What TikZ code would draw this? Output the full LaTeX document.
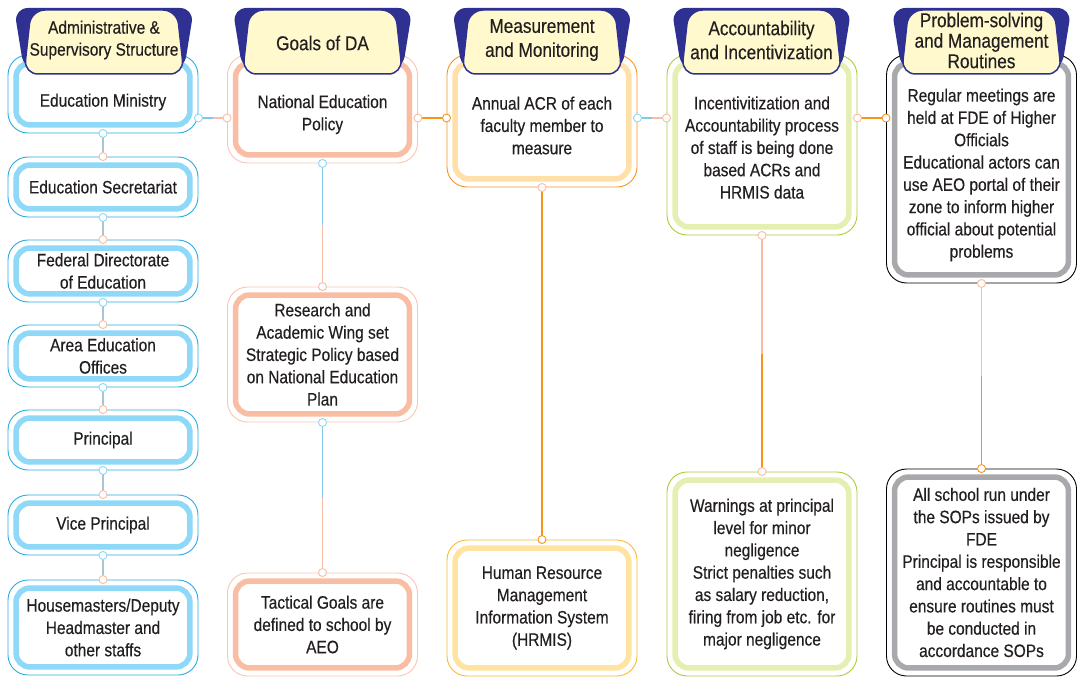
\documentclass[tikz,border=0pt]{standalone}
\usepackage{fontspec}
\setmainfont{Liberation Sans}[FakeStretch=0.86,FakeBold=0.35]
\usetikzlibrary{calc}

\definecolor{navy}{RGB}{46,49,146}
\definecolor{cream}{RGB}{255,249,205}
\definecolor{ink}{RGB}{35,31,32}
\definecolor{skyline}{RGB}{41,171,226}
\definecolor{skyband}{RGB}{142,216,248}
\definecolor{linkblue}{RGB}{130,200,232}
\definecolor{stemgray}{RGB}{170,196,210}
\definecolor{salmonline}{RGB}{249,198,180}
\definecolor{salmonband}{RGB}{249,189,163}
\definecolor{orangeline}{RGB}{247,148,29}
\definecolor{peachband}{RGB}{255,224,168}
\definecolor{goldline}{RGB}{252,186,48}
\definecolor{goldband}{RGB}{255,227,160}
\definecolor{greenline}{RGB}{166,206,57}
\definecolor{greenband}{RGB}{229,239,178}
\definecolor{greyband}{RGB}{167,169,172}

\begin{document}
\begin{tikzpicture}
[x=1pt,y=-1pt,
 box/.style={draw=#1,line width=0.9pt,fill=white,rounded corners=20pt,inner sep=0pt,
   minimum width=190pt,align=center,font=\fontsize{18}{22.3}\selectfont,text=ink},
 txt/.style={align=center,font=\fontsize{18}{22.3}\selectfont,text=ink},
 head/.style={align=center,font=\fontsize{20}{24}\selectfont,text=ink},
 dot/.style={draw=#1,fill=white,line width=0.9pt}]
\useasboundingbox (0,0) rectangle (1080,677);
\coordinate (row) at (0,118);

% supervisory structure
\node[box=skyline,minimum height=78pt] (edmin) at (103,94) {};
\node[box=skyline,minimum height=60pt] (edsec) at (103,187) {Education Secretariat};
\node[box=skyline,minimum height=62pt] (fde) at (103,271) {Federal Directorate\\of Education};
\node[box=skyline,minimum height=62pt] (aeo) at (103,356) {Area Education\\Offices};
\node[box=skyline,minimum height=60pt] (princ) at (103,440) {Principal};
\node[box=skyline,minimum height=60pt] (vprinc) at (103,525) {Vice Principal};
\node[box=skyline,minimum height=95pt] (staff) at (103,627.5) {Housemasters/Deputy\\Headmaster and\\other staffs};

% goals
\node[box=salmonline,minimum height=108pt] (natpol) at (322.5,109) {};
\node[box=salmonline,minimum height=135pt] (research) at (322.5,354.5) {Research and\\Academic Wing set\\Strategic Policy based\\on National Education\\Plan};
\node[box=salmonline,minimum height=103pt] (tactical) at (322.5,624.5) {Tactical Goals are\\defined to school by\\AEO};

% measurement
\node[box=orangeline,minimum height=132pt] (acr) at (542,121) {};
\node[box=goldline,minimum height=136pt] (hrmis) at (542,608) {Human Resource\\Management\\Information System\\(HRMIS)};

% accountability
\node[box=greenline,minimum height=180pt] (incent) at (762,145) {};
\node[box=greenline,minimum height=204pt] (warn) at (762,574) {Warnings at principal\\level for minor\\negligence\\Strict penalties such\\as salary reduction,\\firing from job etc. for\\major negligence};

% routines
\node[box=black,minimum height=228pt] (meet) at (981.5,169) {};
\node[box=black,minimum height=207pt] (sops) at (981.5,572.5) {All school run under\\the SOPs issued by\\FDE\\Principal is responsible\\and accountable to\\ensure routines must\\be conducted in\\accordance SOPs};

\foreach \n/\c in {edmin/skyband,edsec/skyband,fde/skyband,aeo/skyband,princ/skyband,vprinc/skyband,staff/skyband,
  natpol/salmonband,research/salmonband,tactical/salmonband,acr/peachband,hrmis/goldband,
  incent/greenband,warn/greenband,meet/greyband,sops/greyband}
  \draw[\c,line width=5.5pt,rounded corners=14pt] ([shift={(8.5,8.5)}]\n.north west) rectangle ([shift={(-8.5,-8.5)}]\n.south east);

\node[txt] (edmin-t) at (103,102) {Education Ministry};
\node[txt] (natpol-t) at (322.5,114.5) {National Education\\Policy};
\node[txt] (acr-t) at (542,125.5) {Annual ACR of each\\faculty member to\\measure};
\node[txt] (incent-t) at (762,147.5) {Incentivitization and\\Accountability process\\of staff is being done\\based ACRs and\\HRMIS data};
\node[txt] (meet-t) at (981.5,175) {Regular meetings are\\held at FDE of Higher\\Officials\\Educational actors can\\use AEO portal of their\\zone to inform higher\\official about potential\\problems};

% links
\foreach \a/\b in {edmin/edsec,edsec/fde,fde/aeo,aeo/princ,princ/vprinc,vprinc/staff}{
  \draw[stemgray,line width=1.6pt] (\a.south) -- (\b.north);
  \draw[dot=skyband] (\a.south) circle (4pt);
  \draw[dot=salmonband] (\b.north) circle (4pt);
}
\foreach \a/\b/\da/\la/\lb/\db in {edmin/natpol/skyband/linkblue/salmonband/salmonband,
  natpol/acr/salmonband/orangeline/orangeline/orangeline,
  acr/incent/skyband/linkblue/salmonband/salmonband,
  incent/meet/salmonband/orangeline/orangeline/orangeline}{
  \draw[\la,line width=1.4pt] (\a.east |- row) -- ($(\a.east |- row)!.5!(\b.west |- row)$);
  \draw[\lb,line width=1.4pt] ($(\a.east |- row)!.5!(\b.west |- row)$) -- (\b.west |- row);
  \draw[dot=\da] (\a.east |- row) circle (4pt);
  \draw[dot=\db] (\b.west |- row) circle (4pt);
}
\foreach \a/\b/\da/\la/\lb/\db in {natpol/research/skyband/linkblue/salmonband/salmonband,
  research/tactical/skyband/linkblue/salmonband/salmonband,
  acr/hrmis/salmonband/orangeline/orangeline/orangeline,
  incent/warn/salmonband/salmonband/orangeline/salmonband,
  meet/sops/salmonband/salmonband/orangeline/orangeline}{
  \draw[\la,line width=1.4pt] (\a.south) -- ($(\a.south)!.5!(\b.north)$);
  \draw[\lb,line width=1.4pt] ($(\a.south)!.5!(\b.north)$) -- (\b.north);
  \draw[dot=\da] (\a.south) circle (4pt);
  \draw[dot=\db] (\b.north) circle (4pt);
}

% headers
\foreach \cx in {104,322.5,542,761.5,981.5}{
  \fill[navy,rounded corners=14pt] (\cx-90,8) -- (\cx+90,8) -- (\cx+80,70) -- (\cx-80,70) -- cycle;
  \filldraw[fill=cream,draw=navy,line width=1.5pt,rounded corners=14pt]
    (\cx-73,10) -- (\cx+73,10) -- (\cx+80,74) -- (\cx-80,74) -- cycle;
}
\node[head,font=\fontsize{18}{22}\selectfont] (hadmin) at (104,40) {Administrative \&\\Supervisory Structure};
\node[head] (hgoals) at (322.5,43) {Goals of DA};
\node[head] (hmeas) at (542,40) {Measurement\\and Monitoring};
\node[head] (hacc) at (761.5,40) {Accountability\\and Incentivization};
\node[head,font=\fontsize{20}{20.5}\selectfont] (hprob) at (981.5,40.5) {Problem-solving\\and Management\\Routines};
\end{tikzpicture}
\end{document}
